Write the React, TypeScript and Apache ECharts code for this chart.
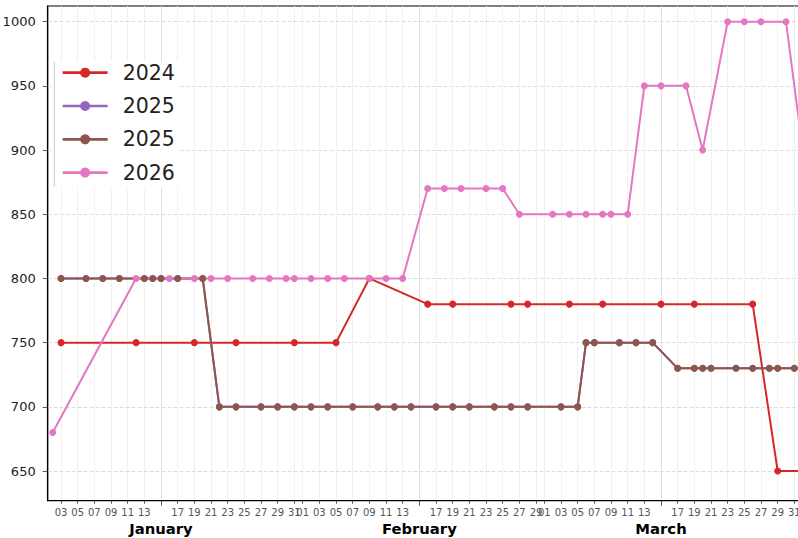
import React, { useEffect, useRef } from 'react';
import * as echarts from 'echarts';

const MONTH_NAMES = ['January', 'February', 'March'];
const MONTH_LENGTHS = [31, 29, 31];
const Y_TICKS = [650, 700, 750, 800, 850, 900, 950, 1000];
const SERIES_NAMES = ['2024', '2025', '2025 ', '2026'];
const SERIES_COLORS = ['#d62728', '#9467bd', '#8c564b', '#e377c2'];

const dates2024 = ['01-03', '01-12', '01-19', '01-24', '01-31', '02-05', '02-09', '02-16', '02-19', '02-26', '02-28', '03-04', '03-08', '03-15', '03-19', '03-26', '03-29', '04-02'];
const values2024 = [750, 750, 750, 750, 750, 750, 800, 780, 780, 780, 780, 780, 780, 780, 780, 780, 650, 650];

const dates2025 = ['01-03', '01-06', '01-08', '01-10', '01-13', '01-14', '01-15', '01-17', '01-20', '01-22', '01-24', '01-27', '01-29', '01-31', '02-02', '02-04', '02-07', '02-10', '02-12', '02-14', '02-17', '02-19', '02-21', '02-24', '02-26', '02-28', '03-03', '03-05', '03-06', '03-07', '03-10', '03-12', '03-14', '03-17', '03-19', '03-20', '03-21', '03-24', '03-26', '03-28', '03-29', '03-31', '04-02'];
const values2025 = [800, 800, 800, 800, 800, 800, 800, 800, 800, 700, 700, 700, 700, 700, 700, 700, 700, 700, 700, 700, 700, 700, 700, 700, 700, 700, 700, 700, 750, 750, 750, 750, 750, 730, 730, 730, 730, 730, 730, 730, 730, 730, 730];

const dates2026 = ['01-02', '01-12', '01-16', '01-19', '01-21', '01-23', '01-26', '01-28', '01-30', '01-31', '02-02', '02-04', '02-06', '02-09', '02-11', '02-13', '02-16', '02-18', '02-20', '02-23', '02-25', '02-27', '03-02', '03-04', '03-06', '03-08', '03-09', '03-11', '03-13', '03-15', '03-18', '03-20', '03-23', '03-25', '03-27', '03-30', '04-01'];
const values2026 = [680, 800, 800, 800, 800, 800, 800, 800, 800, 800, 800, 800, 800, 800, 800, 800, 870, 870, 870, 870, 870, 850, 850, 850, 850, 850, 850, 850, 950, 950, 950, 900, 1000, 1000, 1000, 1000, 900];

function dayOf(s: string): number {
  const [m, d] = s.split('-').map(Number);
  let off = 0;
  for (let i = 0; i < m - 1; i++) off += MONTH_LENGTHS[i] ?? 30;
  return off + d - 1;
}

const X_MIN = 0.4;
const X_MAX = 91;

export default function App() {
  const ref = useRef<HTMLDivElement>(null);
  useEffect(() => {
    if (!ref.current) return;
    const chart = echarts.init(ref.current, undefined, { renderer: 'svg' });

    const minorDays: number[] = [];
    const minorLabel: Record<number, string> = {};
    const majorDays: number[] = [];
    const majorLabel: Record<number, string> = {};
    let off = 0;
    MONTH_LENGTHS.forEach((len, mi) => {
      for (let d = 1; d <= len; d += 2) {
        const day = off + d - 1;
        if (d === 15 || day < X_MIN) continue;
        minorDays.push(day);
        minorLabel[day] = String(d).padStart(2, '0');
      }
      majorDays.push(off + 14);
      majorLabel[off + 14] = MONTH_NAMES[mi];
      off += len;
    });

    const mk = (dates: string[], vals: number[]) => dates.map((d, i) => [dayOf(d), vals[i]]);
    const datas = [mk(dates2024, values2024), mk(dates2025, values2025), mk(dates2025, values2025), mk(dates2026, values2026)];

    const gridLeft = 47.7;
    const gridWidth = (X_MAX - X_MIN) * 8.333;

    chart.setOption({
      animation: false,
      textStyle: { fontFamily: 'DejaVu Sans' },
      grid: { left: gridLeft, top: 6, width: gridWidth, height: 494.7, show: true, borderColor: '#000', borderWidth: 1.2, backgroundColor: 'transparent', containLabel: false, outerBoundsMode: 'none' },
      legend: {
        data: SERIES_NAMES,
        orient: 'vertical',
        left: 54.3,
        top: 61.7,
        padding: [0.5, 4, 5, 7],
        backgroundColor: '#fff',
        itemWidth: 45,
        itemHeight: 12.5,
        itemGap: 12.3,
        formatter: (n: string) => n.trim(),
        lineStyle: { width: 2.7 },
        textStyle: { fontSize: 20.5, color: '#222', fontFamily: 'DejaVu Sans', padding: [0, 0, 0, 10] },
      },
      graphic: [
        { type: 'line', shape: { x1: 54.3, y1: 61.7, x2: 54.3, y2: 186.7 }, style: { stroke: '#cccccc', lineWidth: 1 }, z: 100 },
      ],
      xAxis: [
        {
          type: 'value', min: X_MIN, max: X_MAX, position: 'bottom',
          axisLine: { show: true, lineStyle: { color: '#000', width: 1.2 } },
          axisTick: { show: true, customValues: minorDays, length: 3, lineStyle: { color: '#333', width: 0.8 } },
          axisLabel: { customValues: minorDays, formatter: (v: number) => minorLabel[Math.round(v)] ?? '', fontSize: 10, color: '#555', margin: 7 },
          splitLine: { show: true, lineStyle: { color: '#e3e3e3', type: 'dotted', width: 1 } },
        },
        {
          type: 'value', min: X_MIN, max: X_MAX, position: 'bottom',
          axisLine: { show: false },
          axisTick: { show: true, customValues: majorDays, length: 5, lineStyle: { color: '#333', width: 0.8 } },
          axisLabel: { customValues: majorDays, formatter: (v: number) => majorLabel[Math.round(v)] ?? '', fontSize: 14.8, fontWeight: 'bold', color: '#000', margin: 20 },
          splitLine: { show: true, lineStyle: { color: '#e0e0e0', type: 'solid', width: 1 } },
        },
      ],
      yAxis: {
        type: 'value', min: 626.9, max: 1012.2, minInterval: 50, maxInterval: 50,
        axisLine: { show: true, lineStyle: { color: '#000', width: 1.2 } },
        axisTick: { show: true, customValues: Y_TICKS, length: 5, lineStyle: { color: '#333', width: 0.8 } },
        axisLabel: { customValues: Y_TICKS, formatter: (v: number) => String(Math.round(v)), fontSize: 13, color: '#222', margin: 12 },
        splitLine: { show: true, lineStyle: { color: '#dddddd', type: 'dashed', width: 1 } },
      },
      series: SERIES_NAMES.map((name, i) => ({
        name,
        type: 'line',
        xAxisIndex: 0,
        data: datas[i],
        symbol: 'circle',
        symbolSize: 7,
        showSymbol: true,
        clip: true,
        color: SERIES_COLORS[i],
        lineStyle: { width: 2, color: SERIES_COLORS[i] },
        itemStyle: { color: SERIES_COLORS[i] },
      })),
    });
    return () => chart.dispose();
  }, []);
  return (
    <div style={{ position: 'absolute', left: 0, top: 0, width: 798, height: 538, overflow: 'hidden' }}>
      <div ref={ref} style={{ width: 820, height: 538 }} />
    </div>
  );
}
